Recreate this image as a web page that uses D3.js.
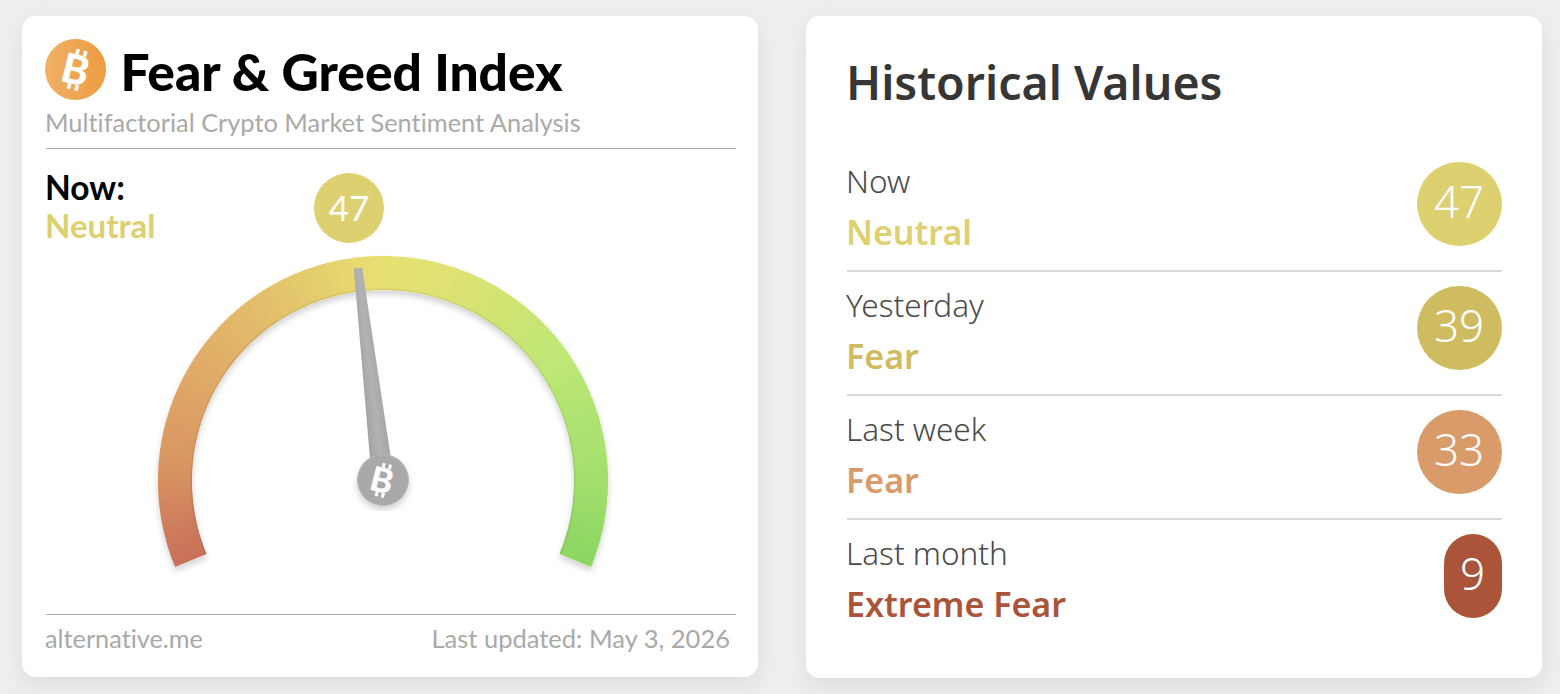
<!DOCTYPE html>
<html><head><meta charset="utf-8">
<script src="https://cdn.jsdelivr.net/npm/d3@7"></script>
<style>html,body{margin:0;padding:0;background:#eeeeee;overflow:hidden}svg{display:block}text{font-variant-ligatures:none}</style>
</head><body><svg id="c" width="1560" height="694"></svg>
<script>
const currentValue = 47;
const rowLabels = ["Now","Yesterday","Last week","Last month"];
const rowClasses = ["Neutral","Fear","Fear","Extreme Fear"];
const rowValues = [47,39,33,9];
const rowColors = ["#ddd070","#d0bc60","#d99b6a","#aa553a"];
const gaugeStops = [0,12.5,25,37.5,50,62.5,75,87.5,100];
const gaugeColors = ["#c8705a","#da9762","#e0ad68","#e3c56c","#e9e072","#d6e372","#bde776","#a6e06e","#8cd662"];
const gaugeTicks = d3.range(0,100,0.5);

const svg = d3.select("#c");
const defs = svg.append("defs");
const f = defs.append("filter").attr("id","card").attr("x","-10%").attr("y","-10%").attr("width","120%").attr("height","120%");
f.append("feDropShadow").attr("dx",0).attr("dy",8).attr("stdDeviation",10).attr("flood-color","#000").attr("flood-opacity",0.07);
const f2 = defs.append("filter").attr("id","soft").attr("x","-10%").attr("y","-10%").attr("width","120%").attr("height","120%");
f2.append("feDropShadow").attr("dx",0).attr("dy",4).attr("stdDeviation",3).attr("flood-color","#000").attr("flood-opacity",0.18);
const g1 = defs.append("linearGradient").attr("id","orange").attr("x1",0).attr("x2",1).attr("y1",0).attr("y2",0);
g1.append("stop").attr("offset","0").attr("stop-color","#efb066");
g1.append("stop").attr("offset","1").attr("stop-color","#ee9c40");
const g2 = defs.append("linearGradient").attr("id","steel").attr("x1",0).attr("x2",1).attr("y1",0).attr("y2",0);
g2.append("stop").attr("offset","0").attr("stop-color","#a2a2a2");
g2.append("stop").attr("offset","0.5").attr("stop-color","#b2b2b2");
g2.append("stop").attr("offset","1").attr("stop-color","#a6a6a6");

svg.append("rect").attr("x",22).attr("y",16).attr("width",736).attr("height",661).attr("rx",14).attr("fill","#fff").attr("filter","url(#card)");
svg.append("rect").attr("x",806).attr("y",16).attr("width",736).attr("height",662).attr("rx",14).attr("fill","#fff").attr("filter","url(#card)");

const lato = "Lato, sans-serif", nun = "'Noto Sans', sans-serif";
function text(x,y,s,size,fill,weight,family,anchor){
  return svg.append("text").attr("x",x).attr("y",y).text(s).attr("font-size",size).attr("fill",fill)
    .attr("font-weight",weight||400).attr("font-family",family||lato).attr("text-anchor",anchor||"start");
}
function bitcoin(parent,x,y,size,fill){
  const g = parent.append("g").attr("transform",`translate(${x},${y}) rotate(14)`);
  g.append("text").attr("text-anchor","middle").attr("y",size*0.36).text("B")
    .attr("font-family",lato).attr("font-weight",900).attr("font-size",size).attr("fill",fill);
  [-0.1,0.09].forEach(dx=>[-0.5,0.36].forEach(dy=>{
    g.append("rect").attr("x",dx*size).attr("y",dy*size).attr("width",size*0.09).attr("height",size*0.14).attr("fill",fill);
  }));
}
// header
svg.append("circle").attr("cx",75.5).attr("cy",69.5).attr("r",30.5).attr("fill","url(#orange)");
bitcoin(svg,75.5,69.5,41,"#fff");
text(120.5,91,"Fear & Greed Index",51.5,"#000",900);
text(45,131.5,"Multifactorial Crypto Market Sentiment Analysis",25.4,"#a9a9a9",400);
svg.append("line").attr("x1",46).attr("x2",736).attr("y1",148.5).attr("y2",148.5).attr("stroke","#aaa").attr("stroke-width",1);
text(45,200,"Now:",33.5,"#000",700);
text(45,238,rowClasses[0],33,rowColors[0],700);
svg.append("circle").attr("cx",349).attr("cy",208).attr("r",35).attr("fill",rowColors[0]);
text(349,221,currentValue,35,"#fff",400,lato,"middle");

// gauge
const cx=383, cy=480, rOuter=225, rInner=191;
const angle = d3.scaleLinear().domain([0,100]).range([-112.5,112.5].map(d=>d*Math.PI/180));
const colorScale = d3.scaleLinear().domain(gaugeStops).range(gaugeColors).interpolate(d3.interpolateRgb);
const arc = d3.arc().innerRadius(rInner).outerRadius(rOuter);
const band = svg.append("g").attr("transform",`translate(${cx},${cy+1})`);
band.append("path").attr("d",arc({startAngle:angle(0),endAngle:angle(100)})).attr("fill","#fff").attr("filter","url(#soft)");
band.selectAll("path.seg").data(gaugeTicks).join("path").attr("class","seg")
  .attr("d",d=>arc({startAngle:angle(d),endAngle:angle(Math.min(100,d+0.7))}))
  .attr("fill",d=>colorScale(d));
// darker bevel on the inner rim
band.append("path").attr("d",d3.arc().innerRadius(rInner).outerRadius(rInner+1.5)({startAngle:angle(0),endAngle:angle(100)})).attr("fill","#000").attr("opacity",0.08);
const gauge = svg.append("g").attr("transform",`translate(${cx},${cy})`);
// needle
const needle = gauge.append("g").attr("transform",`rotate(${angle(currentValue)*180/Math.PI})`);
needle.append("path").attr("d",d3.line()([[-10.5,-20],[10.5,-20],[4.2,-212.5],[3,-213.5],[-3,-213.5],[-4.2,-212.5]])+"Z").attr("fill","url(#steel)");
gauge.append("circle").attr("r",25.5).attr("fill","#a9a9a9").attr("stroke","#b8b8b8").attr("stroke-width",1).attr("filter","url(#soft)");
bitcoin(gauge,-1,0,34,"#fff");
// footer
svg.append("line").attr("x1",46).attr("x2",736).attr("y1",614.5).attr("y2",614.5).attr("stroke","#aaa").attr("stroke-width",1);
text(45,647.5,"alternative.me",25.3,"#a9a9a9",400);
text(730,647.5,"Last updated: May 3, 2026",25.5,"#a9a9a9",400,lato,"end");

// right panel
text(846,100,"Historical Values",46.5,"#363636",600,nun);
const rowY = d3.scaleLinear().domain([0,1]).range([0,124]);
rowLabels.forEach((l,i)=>{
  const dy=rowY(i);
  text(846,192.5+dy,l,31.5,"#4a4a4a",300,nun);
  text(846,244.5+dy,rowClasses[i],34,rowColors[i],600,nun);
  const w = rowValues[i]<10?58:85;
  svg.append("rect").attr("x",1502-w).attr("y",162+dy).attr("width",w).attr("height",84).attr("rx",w===85?42:29).attr("ry",w===85?42:29).attr("fill",rowColors[i]);
  text(1502-w/2-0.5,218+dy,rowValues[i],44,"#fff",300,nun,"middle");
  if(i<3) svg.append("line").attr("x1",847).attr("x2",1502).attr("y1",271+dy).attr("y2",271+dy).attr("stroke","#ccc").attr("stroke-width",1.6);
});
</script></body></html>
